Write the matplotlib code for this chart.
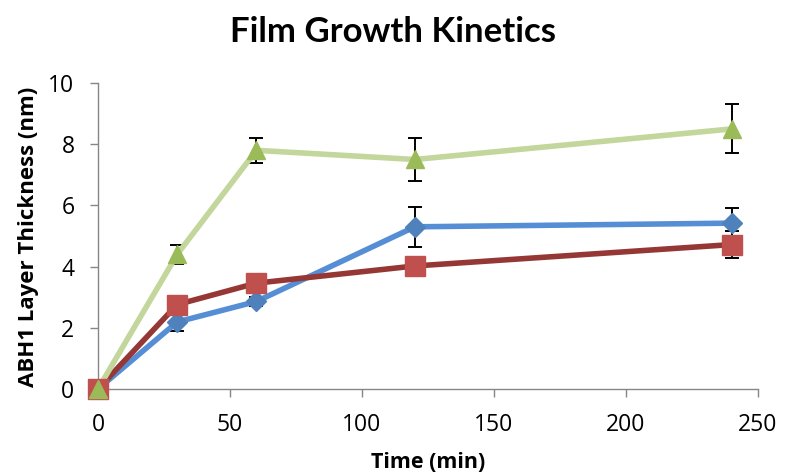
import matplotlib
matplotlib.use("Agg")
import matplotlib.pyplot as plt

# Deposition time points (min)
time_min = [0, 30, 60, 120, 240]

# Layer thickness (nm) and standard deviations for each series
blue_thk = [0, 2.19, 2.86, 5.30, 5.42]
blue_err = [0, 0.28, 0.15, 0.65, 0.50]

red_thk = [0, 2.76, 3.46, 4.02, 4.72]
red_err = [0, 0.15, 0.15, 0.20, 0.45]

green_thk = [0, 4.40, 7.80, 7.50, 8.50]
green_err = [0, 0.30, 0.40, 0.70, 0.80]

x_ticks = [0, 50, 100, 150, 200, 250]
y_ticks = [0, 2, 4, 6, 8, 10]

plt.rcParams['font.family'] = ['Open Sans', 'DejaVu Sans']

W, H = 790, 476
fig = plt.figure(figsize=(W / 100, H / 100), dpi=100)
ax = fig.add_axes([98 / W, 1 - 389 / H, (758 - 98) / W, (389 - 83) / H])

series = [
    (blue_thk, blue_err, '#558ED5', '#4F81BD', 'D', 10.5),
    (red_thk, red_err, '#953735', '#C0504D', 's', 14),
    (green_thk, green_err, '#C3D69B', '#9BBB59', '^', 13),
]

for vals, errs, lcol, mcol, mk, ms in series:
    ax.errorbar(time_min, vals, yerr=errs, fmt='none', ecolor='black',
                elinewidth=1.4, capsize=4.8, capthick=1.4, zorder=2)
    ax.plot(time_min, vals, color=lcol, linewidth=4, zorder=3,
            solid_capstyle='round')
    ax.plot(time_min, vals, linestyle='none', marker=mk, markersize=ms,
            color=mcol, markeredgecolor=mcol, zorder=4, clip_on=False)

ax.set_xlim(0, 250)
ax.set_ylim(0, 10)
ax.set_xticks(x_ticks)
ax.set_yticks(y_ticks)

for side in ('top', 'right'):
    ax.spines[side].set_visible(False)
for side in ('left', 'bottom'):
    ax.spines[side].set_color('#868686')
    ax.spines[side].set_linewidth(1.0)

ax.tick_params(axis='both', direction='out', length=6, width=1.0,
               color='#868686', labelsize=16.5, labelcolor='black', pad=11)

# Axis titles placed in figure pixels
fig.text((98 + 758) / 2 / W, 1 - 468 / H, 'Time (min)', ha='center',
         va='baseline', fontsize=15.5, fontweight='bold')
fig.text(39 / W, 1 - 237 / H, 'ABH1 Layer Thickness (nm)', rotation=90,
         ha='right', va='center', fontsize=16, fontweight='bold')
fig.text(393 / W, 1 - 42 / H, 'Film Growth Kinetics', ha='center',
         va='baseline', fontsize=25, fontweight='bold', family='Lato')

fig.savefig('out.png', dpi=100)
